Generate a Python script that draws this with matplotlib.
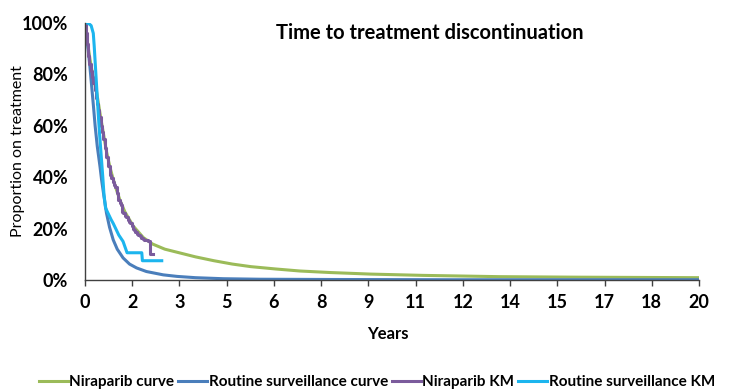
import numpy as np
import matplotlib
matplotlib.use('Agg')
import matplotlib.pyplot as plt

plt.rcParams['font.family'] = ['Lato', 'DejaVu Sans']

# Niraparib fitted curve (years, proportion on treatment)
nira_t = [0, 0.05, 0.1, 0.16, 0.25, 0.38, 0.5, 0.6, 0.7, 0.81, 0.9, 1.0, 1.14, 1.3,
          1.57, 1.9, 2.2, 2.6, 3.1, 3.6, 4.2, 4.8, 5.4, 6.2, 7, 8, 9.3, 11, 13.5, 16,
          18, 20]
nira_y = [1.0, 0.95, 0.91, 0.86, 0.80, 0.73, 0.64, 0.57, 0.50, 0.44, 0.40, 0.36,
          0.31, 0.265, 0.21, 0.165, 0.14, 0.12, 0.105, 0.09, 0.075, 0.062, 0.052,
          0.043, 0.035, 0.029, 0.023, 0.018, 0.013, 0.011, 0.010, 0.009]

# Routine surveillance fitted curve
rs_t = [0, 0.05, 0.1, 0.16, 0.22, 0.28, 0.33, 0.4, 0.49, 0.54, 0.6, 0.7, 0.8, 0.92,
        1.05, 1.24, 1.45, 1.68, 2.0, 2.55, 3.0, 3.6, 4.5, 5.7, 8, 12, 16, 20]
rs_y = [1.0, 0.95, 0.90, 0.83, 0.75, 0.67, 0.60, 0.52, 0.44, 0.39, 0.34, 0.26, 0.205,
        0.156, 0.12, 0.086, 0.062, 0.047, 0.033, 0.02, 0.014, 0.009, 0.005, 0.003,
        0.002, 0.001, 0.001, 0.001]

# Niraparib Kaplan-Meier
nkm_t = [0, 0.03, 0.06, 0.1, 0.14, 0.18, 0.22, 0.27, 0.31, 0.35, 0.39, 0.43, 0.47,
         0.52, 0.56, 0.6, 0.65, 0.7, 0.75, 0.81, 0.85, 0.9, 0.94, 0.98, 1.03, 1.06,
         1.09, 1.13, 1.16, 1.19, 1.22, 1.25, 1.3, 1.35, 1.4, 1.44, 1.47, 1.52, 1.56,
         1.6, 1.64, 1.68, 1.73, 1.78, 1.83, 1.88, 1.93, 1.98, 2.05, 2.12, 2.2]
nkm_y = [1.0, 0.96, 0.92, 0.87, 0.84, 0.815, 0.79, 0.765, 0.74, 0.71, 0.685, 0.66,
         0.635, 0.60, 0.575, 0.55, 0.515, 0.48, 0.445, 0.41, 0.395, 0.38, 0.37, 0.36,
         0.34, 0.33, 0.31, 0.30, 0.29, 0.275, 0.265, 0.26, 0.25, 0.245, 0.235, 0.225,
         0.22, 0.21, 0.20, 0.195, 0.185, 0.18, 0.175, 0.17, 0.165, 0.16, 0.155, 0.155,
         0.15, 0.10, 0.10]

# Routine surveillance Kaplan-Meier
rkm_t = [0, 0.1, 0.2, 0.27, 0.3, 0.33, 0.36, 0.4, 0.44, 0.48, 0.53, 0.58, 0.62, 0.67,
         0.75, 0.85, 0.92, 1.0, 1.1, 1.24, 1.37, 1.85, 1.87, 2.5]
rkm_y = [1.0, 1.0, 0.99, 0.96, 0.91, 0.85, 0.79, 0.71, 0.63, 0.56, 0.48, 0.40, 0.33,
         0.28, 0.26, 0.235, 0.22, 0.20, 0.175, 0.15, 0.106, 0.106, 0.075, 0.075]

fig = plt.figure(figsize=(7.3, 3.91), dpi=100)
ax = fig.add_axes([85 / 730, 1 - 280 / 391, 614 / 730, 257 / 391])

ax.plot(nira_t, nira_y, color='#9BBB59', lw=2.2, label='Niraparib curve')
ax.plot(rs_t, rs_y, color='#4A7EBB', lw=2.2, label='Routine surveillance curve')
ax.plot(nkm_t, nkm_y, color='#7B5B9C', lw=2.2, drawstyle='steps-post', label='Niraparib KM')
ax.plot(rkm_t, rkm_y, color='#1CB5EE', lw=2.2, label='Routine surveillance KM')

ax.set_xlim(0, 20)
ax.set_ylim(0, 1)
xt = np.linspace(0, 20, 14)
ax.set_xticks(xt)
ax.set_xticklabels([f'{v:.0f}' for v in xt], fontweight='bold', fontsize=13)
yt = np.arange(0, 1.01, 0.2)
ax.set_yticks(yt)
ax.set_yticklabels([f'{int(round(v * 100))}%' for v in yt], fontweight='bold', fontsize=13)
ax.tick_params(axis='x', length=4, width=1, pad=6, color='#404040')
ax.tick_params(axis='y', length=0, pad=12)

for s in ['top', 'right']:
    ax.spines[s].set_visible(False)
for s in ['left', 'bottom']:
    ax.spines[s].set_color('#404040')
    ax.spines[s].set_linewidth(1)

ax.set_xlabel('Years', fontweight='bold', fontsize=12)
ax.xaxis.set_label_coords(0.493, -0.18)
ax.set_ylabel('Proportion on treatment', fontsize=11.5)
ax.yaxis.set_label_coords(-0.098, 0.5)
ax.text(0.562, 0.961, 'Time to treatment discontinuation', transform=ax.transAxes,
        ha='center', va='center', fontsize=14.5, fontweight='bold')

leg = fig.legend(loc='center', bbox_to_anchor=(0.516, 0.022), ncol=4, frameon=False,
                 prop={'weight': 'bold', 'size': 11}, handlelength=1.9,
                 handletextpad=0.1, columnspacing=0.25)

fig.savefig('out.png', dpi=100)
